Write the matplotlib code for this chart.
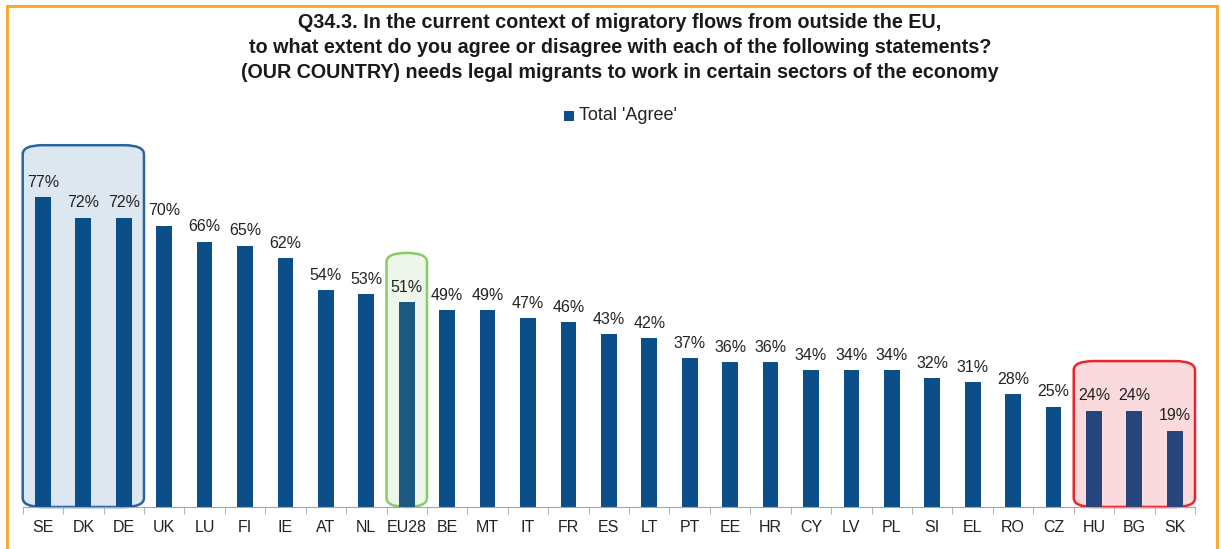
import matplotlib
matplotlib.use("Agg")
import matplotlib.pyplot as plt
from matplotlib.patches import FancyBboxPatch, Rectangle
from matplotlib.lines import Line2D
from matplotlib import font_manager

countries = ["SE", "DK", "DE", "UK", "LU", "FI", "IE", "AT", "NL", "EU28", "BE", "MT", "IT", "FR",
             "ES", "LT", "PT", "EE", "HR", "CY", "LV", "PL", "SI", "EL", "RO", "CZ", "HU", "BG", "SK"]
agree = [77, 72, 72, 70, 66, 65, 62, 54, 53, 51, 49, 49, 47, 46, 43, 42, 37, 36, 36, 34, 34, 34,
         32, 31, 28, 25, 24, 24, 19]
title_lines = ["Q34.3. In the current context of migratory flows from outside the EU,",
               "to what extent do you agree or disagree with each of the following statements?",
               "(OUR COUNTRY) needs legal migrants to work in certain sectors of the economy"]
legend_label = "Total 'Agree'"

names = {f.name for f in font_manager.fontManager.ttflist}
base = "Liberation Sans" if "Liberation Sans" in names else "DejaVu Sans"
narrow = "Liberation Sans Narrow" if "Liberation Sans Narrow" in names else base

W, H = 1221, 549
fig = plt.figure(figsize=(W / 100, H / 100), dpi=100)

x0, x1 = 22.7, 1195.0
ybase, ytop = 507.0, 145.0
ax = fig.add_axes([x0 / W, (H - ybase) / H, (x1 - x0) / W, (ybase - ytop) / H])
n = len(countries)
ax.set_xlim(-0.5, n - 0.5)
ymax = (ybase - ytop) / 4.02
ax.set_ylim(0, ymax)

main_c = "#0b4e89"
eu_c = "#1c5880"
low_c = "#26457a"
colors = []
for c in countries:
    if c == "EU28":
        colors.append(eu_c)
    elif c in ("HU", "BG", "SK"):
        colors.append(low_c)
    else:
        colors.append(main_c)

# highlight boxes (in data coords)
def box(i0, i1, top, fc, ec):
    p = FancyBboxPatch((i0 - 0.5, 0), (i1 - i0 + 1), top,
                       boxstyle="round,pad=0,rounding_size=0.5",
                       mutation_aspect=4.5,
                       fc=fc, ec=ec, lw=1.8, zorder=1, clip_on=False)
    ax.add_patch(p)

box(0, 2, 90.0, "#dde7f0", "#2a64a0")
box(9, 9, 63.2, "#eef5ea", "#88cc66")
box(26, 28, 36.3, "#fadadc", "#e8262c")

xs = list(range(n))
ax.bar(xs, agree, width=0.39, color=colors, zorder=3, label=legend_label)
for x, v in zip(xs, agree):
    ax.text(x, v + 1.8, f"{v}%", ha="center", va="bottom", fontsize=11.5,
            family=base, color="#222222", zorder=4)

for s in ["top", "right", "left"]:
    ax.spines[s].set_visible(False)
ax.spines["bottom"].set_color("#a6a6a6")
ax.spines["bottom"].set_zorder(5)
ax.set_yticks([])
ax.set_xticks(xs)
ax.set_xticklabels(countries, fontsize=11.5, family=base, color="#222222")
ax.tick_params(axis="x", length=0, pad=9)
ax.set_xticks([i - 0.5 for i in range(n + 1)], minor=True)
ax.tick_params(axis="x", which="minor", length=5, color="#a6a6a6", direction="out")

# title
for i, line in enumerate(title_lines):
    fig.text(620 / W, 1 - (22 + 25.5 * i) / H, line, ha="center", va="center",
             fontsize=14.2, fontweight="bold", family=narrow, color="#1a1a1a")

# legend
fig.patches.append(Rectangle((564 / W, 1 - 121 / H), 10 / W, 10 / H,
                             transform=fig.transFigure, fc=main_c, ec="none"))
fig.text(579 / W, 1 - 116 / H, legend_label, ha="left", va="center", fontsize=13,
         family=base, color="#222222")

# orange frame
oc = "#f7a823"
fig.lines.append(Line2D([6.5 / W, 1216.5 / W], [1 - 6 / H, 1 - 6 / H], transform=fig.transFigure,
                        color=oc, lw=2))
fig.lines.append(Line2D([6.5 / W, 6.5 / W], [0, 1 - 6 / H], transform=fig.transFigure, color=oc, lw=2))
fig.lines.append(Line2D([1216.5 / W, 1216.5 / W], [0, 1 - 6 / H], transform=fig.transFigure, color=oc, lw=2))

fig.savefig("out.png", dpi=100)
